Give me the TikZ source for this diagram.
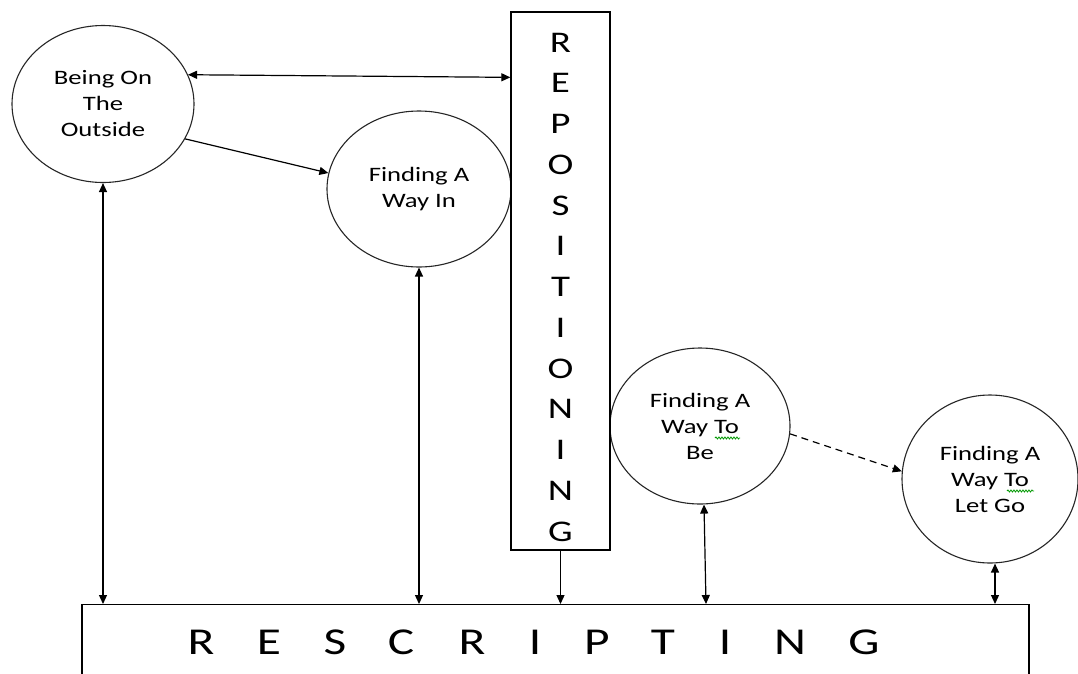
\documentclass[tikz,border=0pt]{standalone}
\usepackage{fontspec}
\setmainfont{Carlito}[FakeStretch=1.3]
\usetikzlibrary{shapes.geometric,arrows.meta,decorations.pathmorphing}
\begin{document}
\begin{tikzpicture}[x=1pt,y=-1pt,
  >={Triangle[length=9pt,width=8pt]},
  bubble/.style={draw=black!85, line width=1.1pt, ellipse, inner sep=0pt, align=center,
    font=\fontsize{20.5}{26}\selectfont},
  boxstyle/.style={draw=black, line width=1.3pt, inner sep=0pt},
  conn/.style={line width=1.2pt, draw=black},
  bigletter/.style={anchor=base, inner sep=0pt, font=\fontsize{38}{40}\selectfont},
  squiggle/.style={draw=green!60!black, line width=0.8pt, decorate,
    decoration={snake, segment length=3pt, amplitude=1pt}}
]
\clip (0,0) rectangle (1078,673);
\fill[white] (0,0) rectangle (1078,673);

% ellipses
\node[bubble, minimum width=182pt, minimum height=157pt] (e1) at (103,104) {Being On\\The\\Outside};
\node[bubble, minimum width=184pt, minimum height=156pt] (e2) at (419,189) {Finding A\\Way In};
\node[bubble, minimum width=180pt, minimum height=156pt] (e3) at (700,426) {Finding A\\Way To\\Be};
\node[bubble, minimum width=176pt, minimum height=168pt] (e4) at (990,479) {Finding A\\Way To\\Let Go};

% spell-check squiggles under "To"
\draw[squiggle] (715,438) -- (740,438);
\draw[squiggle] (1007,491) -- (1034,491);

% vertical box
\node[boxstyle, minimum width=99pt, minimum height=538pt] (repo) at (560.5,281) {};
\node[inner sep=0pt, align=center, font=\fontsize{30}{40.75}\selectfont] (repotext) at (560.5,287)
  {R\\E\\P\\O\\S\\I\\T\\I\\O\\N\\I\\N\\G};

% bottom box
\node[boxstyle, minimum width=947pt, minimum height=120pt, anchor=north] (resc) at (555.5,604) {};
\foreach \l/\x [count=\i] in {R/201,E/269,S/335,C/401,R/472,I/535,P/597,T/663,I/725,N/790,G/864}
  \node[bigletter] (rl\i) at (\x,654) {\l};

% connectors
\draw[conn,<->] (e1.19) -- ([yshift=-66pt]repo.north west);
\draw[conn,->] (e1.-23) -- (e2.170);
\draw[conn,<->] (e1.south) -- (e1.south |- resc.north);
\draw[conn,<->] (e2.south) -- (e2.south |- resc.north);
\draw[conn,->] (repo.south) -- (repo.south |- resc.north);
\draw[conn,<->] ([xshift=4pt]e3.south) -- ([xshift=6pt]e3.south |- resc.north);
\draw[conn,<->] ([xshift=5pt]e4.south) -- ([xshift=5pt]e4.south |- resc.north);
\draw[conn,->,dash pattern=on 7pt off 5pt] (e3.-5) -- (e4.175);
\end{tikzpicture}
\end{document}
